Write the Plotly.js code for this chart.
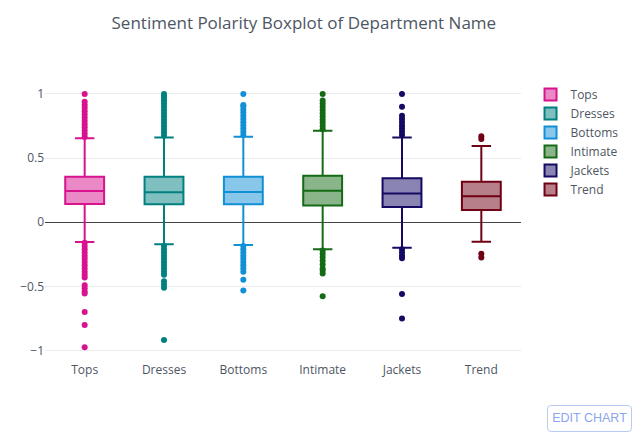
<!DOCTYPE html>
<html>
<head>
<meta charset="utf-8">
<script src="https://cdn.plot.ly/plotly-3.0.1.min.js"></script>
<style>
  html, body { margin: 0; padding: 0; background: #fff; }
  #wrap { position: relative; width: 637px; height: 437px; }
  #chart { width: 637px; height: 437px; }
  #edit {
    position: absolute; left: 547px; top: 405px; width: 83px; height: 25px;
    border: 1px solid #b9cbf5; border-radius: 4px; color: #8ba6ef;
    font-family: "Liberation Sans", Arial, sans-serif; font-size: 12.5px;
    line-height: 25px; text-align: center; background: #fff;
  }
</style>
</head>
<body>
<div id="wrap">
  <div id="chart"></div>
  <div id="edit">EDIT CHART</div>
</div>
<script>
// ---- data ----
var categories = ['Tops', 'Dresses', 'Bottoms', 'Intimate', 'Jackets', 'Trend'];
var q1Values     = [0.143, 0.141, 0.141, 0.130, 0.120, 0.096];
var medianValues = [0.244, 0.234, 0.236, 0.245, 0.224, 0.203];
var q3Values     = [0.354, 0.354, 0.354, 0.362, 0.344, 0.315];
var lowerFences  = [-0.154, -0.172, -0.177, -0.211, -0.198, -0.151];
var upperFences  = [0.654, 0.661, 0.667, 0.714, 0.661, 0.594];

var topsOutliers = [0.665, 0.69, 0.715, 0.74, 0.765, 0.79, 0.815, 0.84, 0.865, 0.89, 0.915, 0.94, 1.0,
  -0.16, -0.185, -0.21, -0.235, -0.26, -0.285, -0.31, -0.335, -0.36, -0.385, -0.41, -0.43,
  -0.49, -0.515, -0.54, -0.555, -0.70, -0.80, -0.975];
var dressesOutliers = [0.675, 0.70, 0.725, 0.75, 0.775, 0.80, 0.825, 0.85, 0.875, 0.90, 0.925, 0.95, 0.97, 0.99, 1.0,
  -0.185, -0.21, -0.235, -0.26, -0.285, -0.31, -0.335, -0.36, -0.385, -0.41,
  -0.46, -0.485, -0.51, -0.917];
var bottomsOutliers = [0.68, 0.705, 0.73, 0.755, 0.78, 0.805, 0.83, 0.855, 0.88, 0.905, 0.915, 1.0,
  -0.185, -0.21, -0.235, -0.26, -0.285, -0.31, -0.335, -0.36, -0.385, -0.448, -0.531];
var intimateOutliers = [0.725, 0.75, 0.775, 0.80, 0.825, 0.85, 0.875, 0.90, 0.925, 0.95, 1.0,
  -0.22, -0.245, -0.27, -0.30, -0.33, -0.36, -0.375, -0.40, -0.576];
var jacketsOutliers = [0.68, 0.705, 0.73, 0.755, 0.78, 0.805, 0.83, 0.90, 1.0,
  -0.21, -0.235, -0.26, -0.28, -0.56, -0.75];
var trendOutliers = [0.65, 0.67, -0.245, -0.275];
var outlierLists = [topsOutliers, dressesOutliers, bottomsOutliers, intimateOutliers, jacketsOutliers, trendOutliers];

// ---- styling ----
var colors = ['#D7138E', '#008080', '#1190D6', '#156B15', '#140A64', '#700014'];
var textColor = '#4D5663';

var traces = [];
categories.forEach(function (cat, i) {
  traces.push({
    type: 'box',
    name: cat,
    x: [cat],
    q1: [q1Values[i]],
    median: [medianValues[i]],
    q3: [q3Values[i]],
    lowerfence: [lowerFences[i]],
    upperfence: [upperFences[i]],
    boxpoints: false,
    line: { color: colors[i], width: 2 },
    marker: { color: colors[i] }
  });
});
categories.forEach(function (cat, i) {
  traces.push({
    type: 'scatter',
    mode: 'markers',
    x: outlierLists[i].map(function () { return cat; }),
    y: outlierLists[i],
    marker: { color: colors[i], size: 6 },
    showlegend: false,
    hoverinfo: 'y'
  });
});

var layout = {
  width: 637,
  height: 437,
  margin: { l: 45, r: 116, t: 80, b: 79 },
  paper_bgcolor: '#fff',
  plot_bgcolor: '#fff',
  font: { family: '"Open Sans", verdana, arial, sans-serif', size: 12, color: textColor },
  title: {
    text: 'Sentiment Polarity Boxplot of Department Name',
    font: { size: 17, color: textColor },
    x: 0.477, xref: 'container', xanchor: 'center',
    y: 0.947, yref: 'container', yanchor: 'middle'
  },
  xaxis: {
    type: 'category',
    showgrid: false,
    zeroline: false,
    showline: false,
    ticklabelstandoff: 3,
    tickfont: { color: textColor }
  },
  yaxis: {
    range: [-1.058, 1.109],
    dtick: 0.5,
    tick0: 0,
    showgrid: true,
    gridcolor: '#EBEBEF',
    zeroline: true,
    zerolinecolor: '#444',
    zerolinewidth: 1,
    showline: false,
    tickfont: { color: textColor }
  },
  legend: {
    x: 1.02, xanchor: 'left', y: 1, yanchor: 'top',
    tracegroupgap: 0,
    font: { color: textColor }
  },
  showlegend: true
};

Plotly.newPlot('chart', traces, layout, { displayModeBar: false, staticPlot: true });
</script>
</body>
</html>
